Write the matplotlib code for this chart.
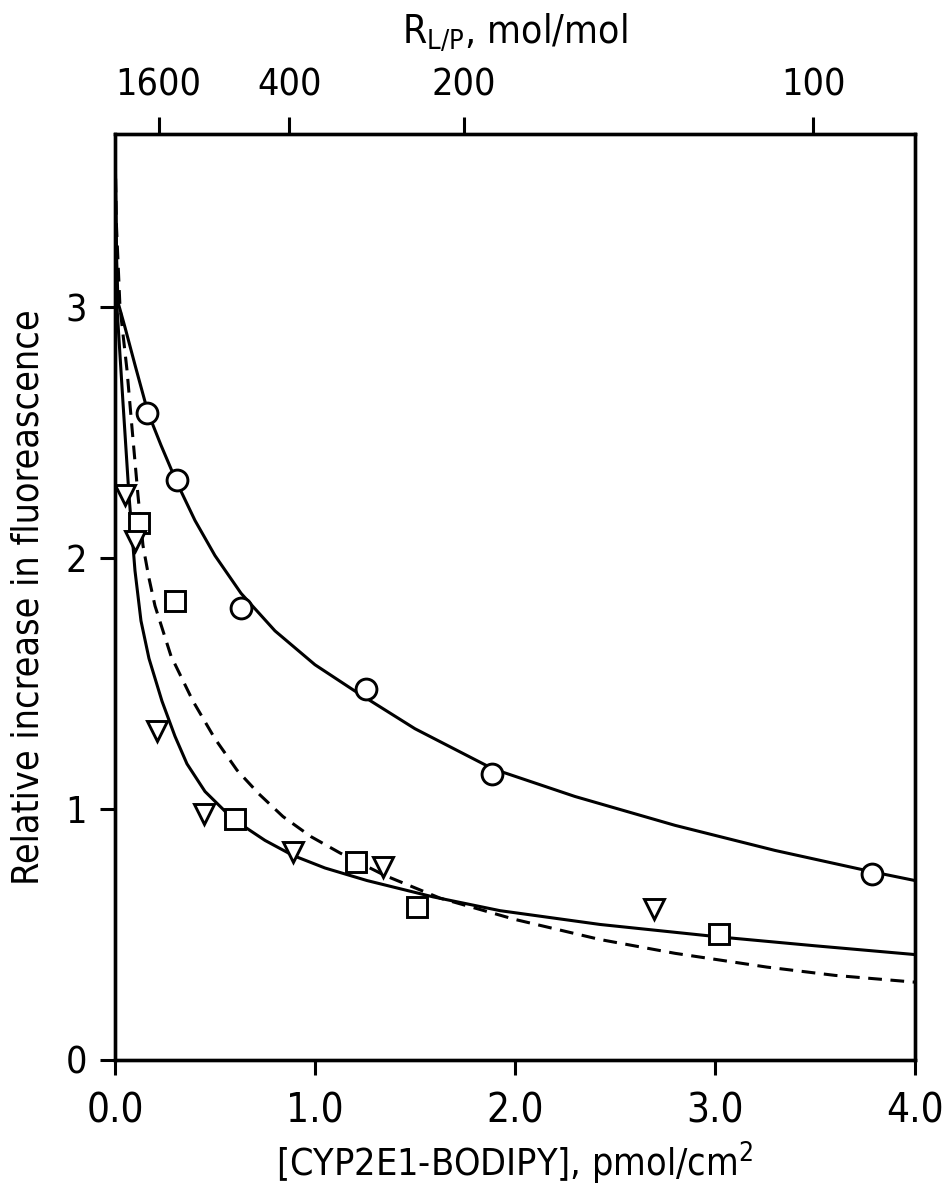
import numpy as np
import matplotlib.pyplot as plt

# measured data points (x in pmol/cm2, y relative increase)
circ_x = [0.16, 0.31, 0.63, 1.255, 1.885, 3.785]
circ_y = [2.58, 2.31, 1.80, 1.48, 1.14, 0.74]
sq_x = [0.12, 0.30, 0.60, 1.205, 1.51, 3.02]
sq_y = [2.14, 1.83, 0.96, 0.79, 0.61, 0.50]
tri_x = [0.05, 0.10, 0.21, 0.445, 0.89, 1.34, 2.695]
tri_y = [2.25, 2.07, 1.31, 0.98, 0.83, 0.77, 0.60]

# fitted curves
fit1_x = [0.0, 0.003, 0.008, 0.015, 0.05, 0.10, 0.165, 0.23, 0.31, 0.40, 0.50,
          0.63, 0.80, 1.00, 1.20, 1.50, 1.89, 2.30, 2.80, 3.30, 3.785, 4.0]
fit1_y = [3.69, 3.50, 3.20, 3.02, 2.92, 2.77, 2.58, 2.45, 2.30, 2.15, 2.01,
          1.86, 1.71, 1.575, 1.47, 1.32, 1.16, 1.05, 0.935, 0.835, 0.75, 0.715]
fit2_x = [0.0, 0.004, 0.01, 0.04, 0.07, 0.10, 0.13, 0.17, 0.235, 0.30, 0.36,
          0.45, 0.59, 0.75, 0.89, 1.05, 1.26, 1.59, 1.925, 2.425, 3.025, 3.5, 4.0]
fit2_y = [3.69, 3.35, 3.00, 2.62, 2.25, 1.95, 1.75, 1.60, 1.43, 1.29, 1.18,
          1.07, 0.96, 0.875, 0.815, 0.765, 0.715, 0.65, 0.595, 0.54, 0.49, 0.455, 0.42]
fit3_x = [0.0, 0.006, 0.025, 0.06, 0.085, 0.115, 0.14, 0.17, 0.20, 0.28, 0.39,
          0.50, 0.61, 0.72, 0.84, 0.98, 1.125, 1.35, 1.625, 2.0, 2.425, 2.8,
          3.26, 3.6, 4.0]
fit3_y = [3.69, 3.35, 3.00, 2.75, 2.52, 2.25, 2.05, 1.92, 1.81, 1.61, 1.43,
          1.28, 1.155, 1.06, 0.97, 0.89, 0.825, 0.735, 0.645, 0.56, 0.48, 0.425,
          0.37, 0.337, 0.31]

x_ticks = [0.0, 1.0, 2.0, 3.0, 4.0]
y_ticks = [0, 1, 2, 3]
rlp_ticks = [1600, 400, 200, 100]
rlp_const = 349.0  # R_L/P = rlp_const / x

plt.rcParams['font.family'] = ['DejaVu Sans']
plt.rcParams['font.stretch'] = 'condensed'
plt.rcParams['mathtext.fontset'] = 'custom'
plt.rcParams['mathtext.rm'] = 'DejaVu Sans'

fig = plt.figure(figsize=(9.44, 12), dpi=100)
ax = fig.add_axes([0.1218, 0.1167, 0.8475, 0.7716])

lw = 2.2
ax.plot(fit1_x, fit1_y, color='black', lw=lw, solid_joinstyle='round')
ax.plot(fit2_x, fit2_y, color='black', lw=lw, solid_joinstyle='round')
ax.plot(fit3_x, fit3_y, color='black', lw=lw, dashes=(4.5, 2.8))

mk = dict(ls='none', mfc='white', mec='black', mew=2.1, zorder=3)
ax.plot(circ_x, circ_y, marker='o', ms=15, **mk)
ax.plot(sq_x, sq_y, marker='s', ms=14, **mk)
ax.plot(tri_x, tri_y, marker='v', ms=15, **mk)

ax.set_xlim(0, 4.0)
ax.set_ylim(0, 3.69)
ax.set_xticks(x_ticks)
ax.set_xticklabels(["%.1f" % v for v in x_ticks])
ax.set_yticks(y_ticks)
for s in ax.spines.values():
    s.set_linewidth(2.4)
ax.tick_params(direction='out', length=11, width=2.2, labelsize=27, pad=9)
ax.tick_params(axis='x', labelsize=29, pad=12)
ax.set_xlabel('[CYP2E1-BODIPY], pmol/cm$^2$', fontsize=27, labelpad=6)
ax.set_ylabel('Relative increase in fluoreascence', fontsize=27, labelpad=14)

top = ax.twiny()
top.set_xlim(ax.get_xlim())
top.set_xticks([rlp_const / r for r in rlp_ticks])
top.set_xticklabels([str(r) for r in rlp_ticks])
top.tick_params(direction='out', length=12, width=2.2, labelsize=27, pad=10)
for s in top.spines.values():
    s.set_linewidth(2.4)
top.set_xlabel(r'R$_{\mathregular{L/P}}$, mol/mol', fontsize=28, labelpad=18)

fig.savefig('out.png', dpi=100)
